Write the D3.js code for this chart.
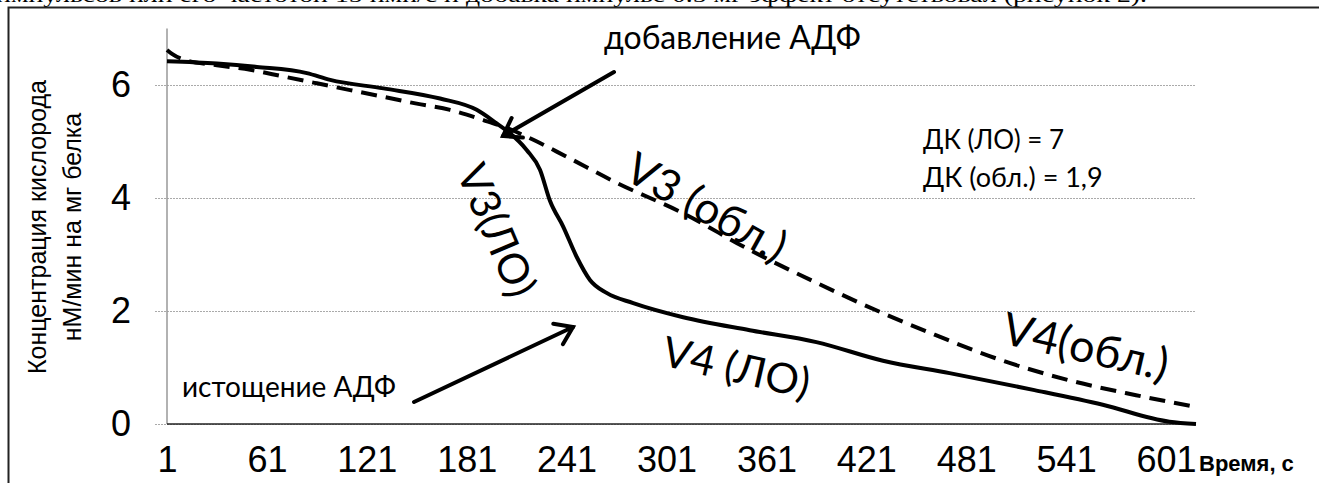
<!DOCTYPE html>
<html>
<head>
<meta charset="utf-8">
<script src="https://d3js.org/d3.v7.min.js"></script>
<style>
  html, body { margin: 0; padding: 0; background: #fff; overflow: hidden; }
  svg { display: block; }
</style>
</head>
<body>
<div class="chart-div"></div>
<script>
// readings of the two oxygen traces (time, s -> nM/min per mg protein)
const loTime  = [1, 31, 55, 85, 99, 131, 165, 187, 199, 206, 217, 225, 231, 239, 247, 255, 265, 281, 311, 351, 391, 431, 471, 522, 563, 603, 619];
const loValue = [6.42, 6.38, 6.32, 6.21, 6.09, 5.94, 5.76, 5.56, 5.32, 5.17, 4.85, 4.5, 3.95, 3.49, 2.96, 2.55, 2.32, 2.14, 1.89, 1.66, 1.45, 1.12, 0.9, 0.6, 0.34, 0.04, 0.0];

const oblTime  = [1, 4, 11, 31, 51, 71, 91, 111, 131, 151, 171, 191, 205, 221, 241, 271, 311, 351, 391, 431, 462, 502, 542, 583, 619];
const oblValue = [6.62, 6.55, 6.45, 6.35, 6.27, 6.15, 6.03, 5.91, 5.79, 5.67, 5.56, 5.38, 5.24, 5.03, 4.73, 4.27, 3.73, 3.08, 2.5, 1.96, 1.58, 1.13, 0.78, 0.51, 0.3];

const xTicks = [1, 61, 121, 181, 241, 301, 361, 421, 481, 541, 601];
const yTicks = [0, 2, 4, 6];

var width = 1319;
var height = 483;

const svg = d3.select(".chart-div").append("svg")
    .attr("width", width)
    .attr("height", height);

// cut-off line of the surrounding document
svg.append("text")
    .attr("x", -4)
    .attr("y", 2)
    .attr("font-family", "'Liberation Serif', serif")
    .attr("font-size", 20)
    .attr("textLength", 1151)
    .attr("lengthAdjust", "spacingAndGlyphs")
    .text("импульсов или его частотой 15 имп/с и добавка импульс 0.5 мг эффект отсутствовал (рисунок 2).");

// chart frame (only top and left edges visible)
svg.append("path")
    .attr("d", "M8.5,483V7.5H1319")
    .attr("fill", "none")
    .attr("stroke", "#222")
    .attr("stroke-width", 2);

const x = d3.scaleLinear().domain([1, 619]).range([167, 1196]);
const y = d3.scaleLinear().domain([0, 7]).range([424, 28.5]);

const axisFont = "'Liberation Sans', Arial, sans-serif";

// horizontal gridlines + y labels
const gy = svg.append("g")
    .attr("transform", "translate(155,0)")
    .call(d3.axisLeft(y).tickValues(yTicks).tickFormat(d3.format("d"))
        .tickSizeInner(-(1196 - 155)).tickSizeOuter(0).tickPadding(24));
gy.select(".domain").remove();
gy.selectAll(".tick line")
    .attr("stroke", "#aaa")
    .attr("stroke-dasharray", "2,1");
gy.selectAll(".tick text")
    .attr("font-family", axisFont)
    .attr("font-size", 36)
    .attr("fill", "#000");

// x axis labels
const gx = svg.append("g")
    .attr("transform", "translate(0,424)")
    .call(d3.axisBottom(x).tickValues(xTicks).tickSize(0).tickPadding(22));
gx.select(".domain").remove();
gx.selectAll(".tick text")
    .attr("font-family", axisFont)
    .attr("font-size", 36)
    .attr("fill", "#000");

// axis lines
svg.append("line")
    .attr("x1", x(1)).attr("x2", x(1))
    .attr("y1", y(7)).attr("y2", y(0))
    .attr("stroke", "#999").attr("stroke-width", 1.5);
svg.append("line")
    .attr("x1", x(1)).attr("x2", x(619))
    .attr("y1", y(0)).attr("y2", y(0))
    .attr("stroke", "#222").attr("stroke-width", 1.5);

svg.append("text")
    .attr("x", 1199).attr("y", 471)
    .attr("font-family", axisFont)
    .attr("font-weight", "bold")
    .attr("font-size", 22)
    .text("Время, с");

// y title
const yt = svg.append("text")
    .attr("transform", "translate(0,227) rotate(-90)")
    .attr("text-anchor", "middle")
    .attr("font-family", axisFont)
    .attr("font-size", 25);
yt.append("tspan").attr("x", 0).attr("y", 46).text("Концентрация кислорода");
yt.append("tspan").attr("x", 0).attr("y", 81).text("нМ/мин на мг белка");

// curves
const line = d3.line()
    .x(d => x(d[0]))
    .y(d => y(d[1]))
    .curve(d3.curveMonotoneX);

svg.append("path")
    .datum(d3.zip(oblTime, oblValue))
    .attr("d", line)
    .attr("fill", "none")
    .attr("stroke", "#000")
    .attr("stroke-width", 4)
    .attr("stroke-dasharray", "16,9");

svg.append("path")
    .datum(d3.zip(loTime, loValue))
    .attr("d", line)
    .attr("fill", "none")
    .attr("stroke", "#000")
    .attr("stroke-width", 4)
    .attr("stroke-linejoin", "round");

// annotations
const annFont = "Lato, Carlito, sans-serif";

function arrow(x0, y0, x1, y1) {
    const a = Math.atan2(y1 - y0, x1 - x0);
    const len = 20, spread = 0.6;
    const g = svg.append("g")
        .attr("stroke", "#000")
        .attr("stroke-width", 4)
        .attr("stroke-linecap", "round")
        .attr("fill", "none");
    g.append("line").attr("x1", x0).attr("y1", y0).attr("x2", x1).attr("y2", y1);
    g.append("path").attr("d",
        "M" + (x1 - len * Math.cos(a - spread)) + "," + (y1 - len * Math.sin(a - spread)) +
        "L" + x1 + "," + y1 +
        "L" + (x1 - len * Math.cos(a + spread)) + "," + (y1 - len * Math.sin(a + spread)));
}

arrow(614, 72, 503, 136);
arrow(414, 402, 573, 327);

svg.append("text")
    .attr("x", 604).attr("y", 49)
    .attr("font-family", annFont).attr("font-size", 32)
    .text("добавление АДФ");

svg.append("text")
    .attr("x", 182).attr("y", 397)
    .attr("font-family", annFont).attr("font-size", 28)
    .text("истощение АДФ");

svg.append("text")
    .attr("x", 923).attr("y", 149)
    .attr("font-family", annFont).attr("font-size", 26)
    .text("ДК (ЛО) = 7");
svg.append("text")
    .attr("x", 923).attr("y", 187)
    .attr("font-family", annFont).attr("font-size", 27)
    .text("ДК (обл.) = 1,9");

function rotLabel(txt, px, py, angle, size) {
    svg.append("text")
        .attr("transform", "translate(" + px + "," + py + ") rotate(" + angle + ")")
        .attr("font-family", annFont)
        .attr("font-size", size)
        .text(txt);
}

rotLabel("V3 (обл.)", 622, 178, 29, 44);
rotLabel("V3(ЛО)", 456, 172, 67, 42);
rotLabel("V4 (ЛО)", 660, 365, 13, 42);
rotLabel("V4(обл.)", 1000, 343, 13, 45);
</script>
</body>
</html>
